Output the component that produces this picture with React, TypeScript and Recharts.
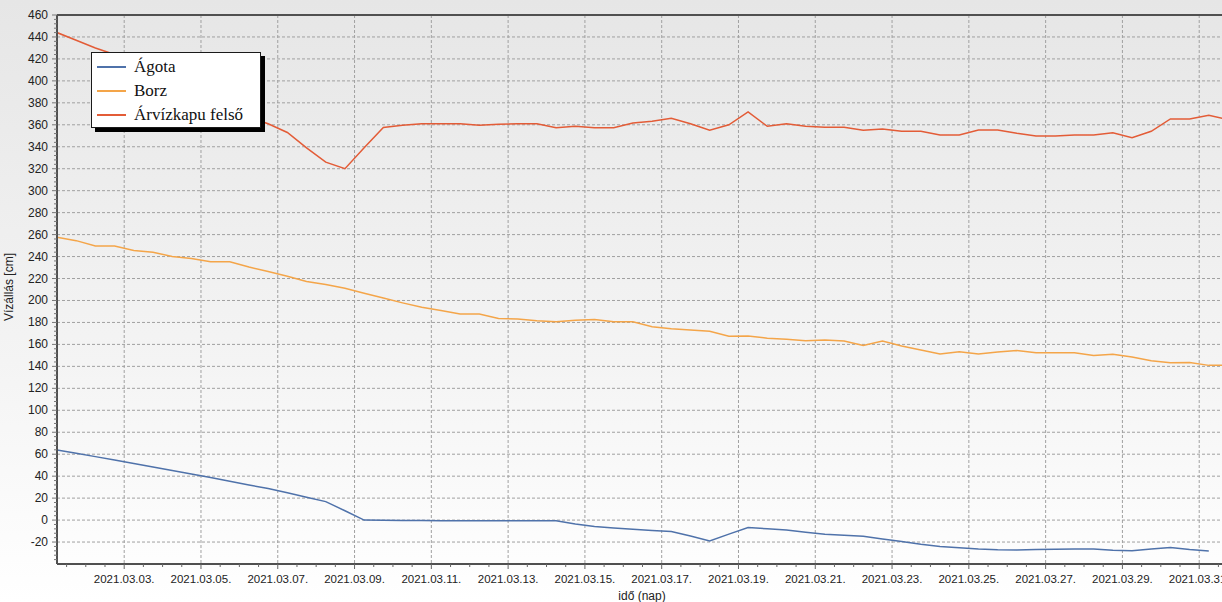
import React from 'react';
import { LineChart, Line, XAxis, YAxis, CartesianGrid, ReferenceLine } from 'recharts';

// time in days since 2021.03.01 00:00 (readings every 12 hours)
const times: number[] = [
  0.25, 0.75, 1.25, 1.75, 2.25, 2.75, 3.25, 3.75, 4.25, 4.75,
  5.25, 5.75, 6.25, 6.75, 7.25, 7.75, 8.25, 8.75, 9.25, 9.75,
  10.25, 10.75, 11.25, 11.75, 12.25, 12.75, 13.25, 13.75, 14.25, 14.75,
  15.25, 15.75, 16.25, 16.75, 17.25, 17.75, 18.25, 18.75, 19.25, 19.75,
  20.25, 20.75, 21.25, 21.75, 22.25, 22.75, 23.25, 23.75, 24.25, 24.75,
  25.25, 25.75, 26.25, 26.75, 27.25, 27.75, 28.25, 28.75, 29.25, 29.75,
  30.25, 30.75,
];

const agota: (number | null)[] = [
  63.8, 60.9, 57.8, 54.7, 51.5, 48.3, 45.2, 42, 38.7, 35.3,
  32, 28.7, 24.8, 20.8, 16.8, 8.5, 0, -0.2, -0.3, -0.4,
  -0.5, -0.5, -0.6, -0.6, -0.6, -0.6, -0.6, -3.5, -5.9, -7.3,
  -8.4, -9.4, -10.5, -14.5, -19.1, -12.8, -6.7, -7.9, -9.1, -11,
  -12.8, -13.8, -14.8, -17.3, -19.6, -22, -24, -25.2, -26.3, -27,
  -27.3, -26.9, -26.6, -26.3, -26.3, -27.5, -28, -26.4, -25, -26.8,
  -28.2, null,
];

const borz: number[] = [
  257.5, 254.5, 249.6, 249.6, 245.5, 244, 240, 238.3, 235.3, 235.3,
  230.5, 226.3, 222, 217.2, 214.5, 211.2, 206.6, 202.2, 197.8, 193.8,
  190.9, 187.7, 187.6, 183.6, 183.1, 181.5, 180.6, 182, 182.7, 180.6,
  180.6, 176, 174.3, 173.2, 172, 167.5, 167.6, 165.7, 164.7, 163.4,
  164.1, 163, 159.1, 163, 158.5, 155, 151.3, 153.2, 151.3, 153,
  154.4, 152.4, 152.4, 152.3, 150, 151, 148.6, 145.2, 143.3, 143.5,
  140.9, 141.2,
];

const arvizkapu: number[] = [
  444, 437, 430, 424, 416, 408, 399, 391, 383, 375,
  367, 361, 353, 339, 326, 320, 339, 357.5, 359.5, 361,
  361, 361, 359.5, 360.5, 361, 361, 357.4, 358.6, 357.4, 357.4,
  361.6, 363.2, 366, 361, 355, 360, 371.7, 358.6, 361, 358.6,
  357.7, 357.7, 355, 356.2, 354.1, 354.1, 350.7, 350.7, 355.2, 355.2,
  352.2, 349.8, 349.8, 350.7, 350.7, 352.8, 348.2, 354.1, 365.3, 365.3,
  368.7, 364.8,
];

const seriesNames = ['Ágota', 'Borz', 'Árvízkapu felső'];
const seriesKeys = ['agota', 'borz', 'arvizkapu'];
const seriesColors = ['#4f72aa', '#f4a549', '#e35c37'];

const xTickDays: number[] = [2, 4, 6, 8, 10, 12, 14, 16, 18, 20, 22, 24, 26, 28, 30];
const xTickLabels: string[] = [
  '2021.03.03.', '2021.03.05.', '2021.03.07.', '2021.03.09.', '2021.03.11.',
  '2021.03.13.', '2021.03.15.', '2021.03.17.', '2021.03.19.', '2021.03.21.',
  '2021.03.23.', '2021.03.25.', '2021.03.27.', '2021.03.29.', '2021.03.31.',
];
const yTickValues: number[] = [
  -20, 0, 20, 40, 60, 80, 100, 120, 140, 160, 180, 200, 220, 240, 260,
  280, 300, 320, 340, 360, 380, 400, 420, 440, 460,
];

const xMinorTicks: number[] = Array.from({ length: 61 }, (_, i) => 0.5 + i * 0.5);
const yMinorTicks: number[] = Array.from({ length: 125 }, (_, i) => -36 + i * 4);

const data = times.map((t, i) => ({
  t,
  agota: agota[i],
  borz: borz[i],
  arvizkapu: arvizkapu[i],
}));

const FONT = '"Liberation Sans", Arial, sans-serif';

const XTick = (props: any) => {
  const { x, y, payload } = props;
  const v = payload.value as number;
  const idx = xTickDays.indexOf(v);
  return (
    <g>
      <line x1={x} x2={x} y1={y} y2={y + (idx >= 0 ? 5 : 3)} stroke="#666" strokeWidth={1} />
      {idx >= 0 && (
        <text x={x} y={y + 19} textAnchor="middle" fontSize={11.5} fontFamily={FONT} fill="#222">
          {xTickLabels[idx]}
        </text>
      )}
    </g>
  );
};

const YTick = (props: any) => {
  const { x, y, payload } = props;
  const v = payload.value as number;
  const major = yTickValues.indexOf(v) >= 0;
  return (
    <g>
      <line x1={x - (major ? 5 : 3)} x2={x} y1={y} y2={y} stroke="#777" strokeWidth={1} />
      {major && (
        <text x={x - 9} y={y + 4} textAnchor="end" fontSize={12} fontFamily={FONT} fill="#222">
          {v}
        </text>
      )}
    </g>
  );
};

export default function App() {
  return (
    <div
      style={{
        position: 'fixed',
        left: 0,
        top: 0,
        width: 1222,
        height: 602,
        overflow: 'hidden',
        background: 'linear-gradient(to bottom, #e6e6e6 0%, #f4f4f4 60%, #ffffff 100%)',
      }}
    >
      <LineChart
        width={1250}
        height={602}
        data={data}
        margin={{ top: 15, right: 22, bottom: 0, left: 0 }}
      >
        <CartesianGrid
          stroke="#a0a0a0"
          strokeDasharray="3 2"
          horizontalValues={yTickValues}
          verticalValues={xTickDays}
        />
        <XAxis
          dataKey="t"
          type="number"
          domain={[0.25, 30.75]}
          allowDataOverflow
          ticks={xMinorTicks}
          interval={0}
          tick={<XTick />}
          tickLine={false}
          tickSize={0}
          tickMargin={0}
          height={38}
          axisLine={{ stroke: '#505050', strokeWidth: 2 }}
          label={(p: any) => (
            <text x={642} y={600} textAnchor="middle" fontSize={12} fontFamily={FONT} fill="#222">
              idő (nap)
            </text>
          )}
        />
        <YAxis
          type="number"
          domain={[-40, 460]}
          allowDataOverflow
          ticks={yMinorTicks}
          interval={0}
          tick={<YTick />}
          tickLine={false}
          tickSize={0}
          tickMargin={0}
          width={57}
          axisLine={{ stroke: '#505050', strokeWidth: 2 }}
          label={(p: any) => (
            <text
              x={13}
              y={287}
              textAnchor="middle"
              fontSize={12}
              fontFamily={FONT}
              fill="#222"
              transform="rotate(-90, 13, 287)"
            >
              Vízállás [cm]
            </text>
          )}
        />
        <ReferenceLine y={460} stroke="#505050" strokeWidth={2} />
        {seriesKeys.map((k, i) => (
          <Line
            key={k}
            type="linear"
            dataKey={k}
            name={seriesNames[i]}
            stroke={seriesColors[i]}
            strokeWidth={1.5}
            dot={false}
            activeDot={false}
            isAnimationActive={false}
          />
        ))}
      </LineChart>
      <div
        style={{
          position: 'absolute',
          left: 91,
          top: 52,
          width: 168,
          height: 72,
          background: '#ffffff',
          border: '1px solid #1a1a1a',
          boxShadow: '4px 4px 0 #000',
          fontFamily: '"Liberation Serif", "Times New Roman", serif',
          fontSize: 17,
          color: '#111',
          paddingTop: 2,
          boxSizing: 'content-box',
        }}
      >
        {seriesNames.map((n, i) => (
          <div key={n} style={{ display: 'flex', alignItems: 'center', height: 24, lineHeight: '24px' }}>
            <div style={{ width: 29, height: 2, background: seriesColors[i], marginLeft: 5, marginRight: 8 }} />
            <span>{n}</span>
          </div>
        ))}
      </div>
    </div>
  );
}
